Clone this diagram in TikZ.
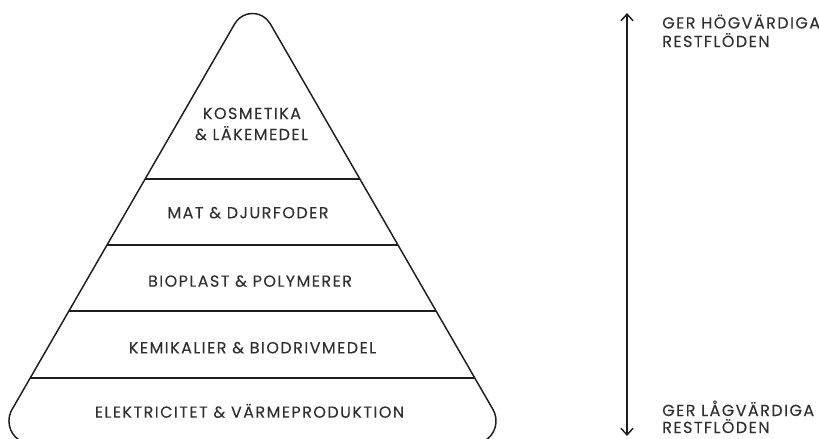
\documentclass[tikz,border=0pt]{standalone}
\usepackage{fontspec}
\setmainfont{Poppins}
\newfontfamily\spaced[LetterSpace=9,FakeBold=0.12]{Poppins}
\usetikzlibrary{arrows.meta,calc}
\definecolor{txt}{HTML}{303030}
\definecolor{ln}{HTML}{1E1E1E}
\begin{document}
\begin{tikzpicture}[x=0.75pt,y=-0.75pt,
  lbl/.style={font=\spaced\fontsize{12}{14}\selectfont, text=txt, inner sep=0pt, anchor=base},
  side/.style={font=\spaced\fontsize{12}{14}\selectfont, text=txt, inner sep=0pt, anchor=base west},
  edge/.style={draw=ln, line width=1.1pt}]
\useasboundingbox (0,0) rectangle (819,439);
\clip (0,0) rectangle (819,439);
% geometry (pixel coordinates, y down)
\pgfmathsetmacro{\ax}{252.5}
\pgfmathsetmacro{\ay}{-7}
\pgfmathsetmacro{\sl}{0.57735}
\pgfmathsetmacro{\Rt}{20.5}
\pgfmathsetmacro{\Rb}{23}
\pgfmathsetmacro{\by}{444}
\pgfmathsetmacro{\bx}{\ax-\sl*(\by-\ay)}
\coordinate (Ct) at (\ax,{\ay+2*\Rt});
\coordinate (Cl) at ({\bx+1.73205*\Rb},{\by-\Rb});
\coordinate (Cr) at ({2*\ax-\bx-1.73205*\Rb},{\by-\Rb});
\draw[edge] ($(Ct)+(210:\Rt)$) arc[start angle=210,end angle=330,radius=\Rt]
  -- ($(Cr)+(-30:\Rb)$) arc[start angle=-30,end angle=90,radius=\Rb]
  -- ($(Cl)+(90:\Rb)$) arc[start angle=90,end angle=210,radius=\Rb] -- cycle;
% dividers
\foreach \yy/\nm in {179/d1,245/d2,311/d3,378/d4}{
  \pgfmathsetmacro{\xl}{\ax-\sl*(\yy-\ay)}
  \coordinate (\nm l) at (\xl,\yy);
  \coordinate (\nm r) at ({2*\ax-\xl},\yy);
  \draw[edge] (\nm l) -- (\nm r);
}
% labels
\node[lbl] (k1) at (252,119) {KOSMETIKA};
\node[lbl] (k2) at (251.5,140) {\&\ LÄKEMEDEL};
\node[lbl] (mat) at (248,218.3) {MAT \& DJURFODER};
\node[lbl] (bio) at (250,286.7) {BIOPLAST \& POLYMERER};
\node[lbl] (kem) at (252.5,353.3) {KEMIKALIER \& BIODRIVMEDEL};
\node[lbl] (el) at (249.5,417.7) {ELEKTRICITET \& VÄRMEPRODUKTION};
% arrow
\coordinate (atop) at (627,13);
\coordinate (abot) at (627,436);
\draw[draw=ln, line width=1.1pt, {Straight Barb[length=5pt,width=9pt]}-{Straight Barb[length=5pt,width=9pt]}] (abot) -- (atop);
\node[side] (h1) at (662,28.5) {GER HÖGVÄRDIGA};
\node[side] (h2) at (662,47) {RESTFLÖDEN};
\node[side] (l1) at (662,416) {GER LÅGVÄRDIGA};
\node[side] (l2) at (662,433) {RESTFLÖDEN};
\end{tikzpicture}
\end{document}
